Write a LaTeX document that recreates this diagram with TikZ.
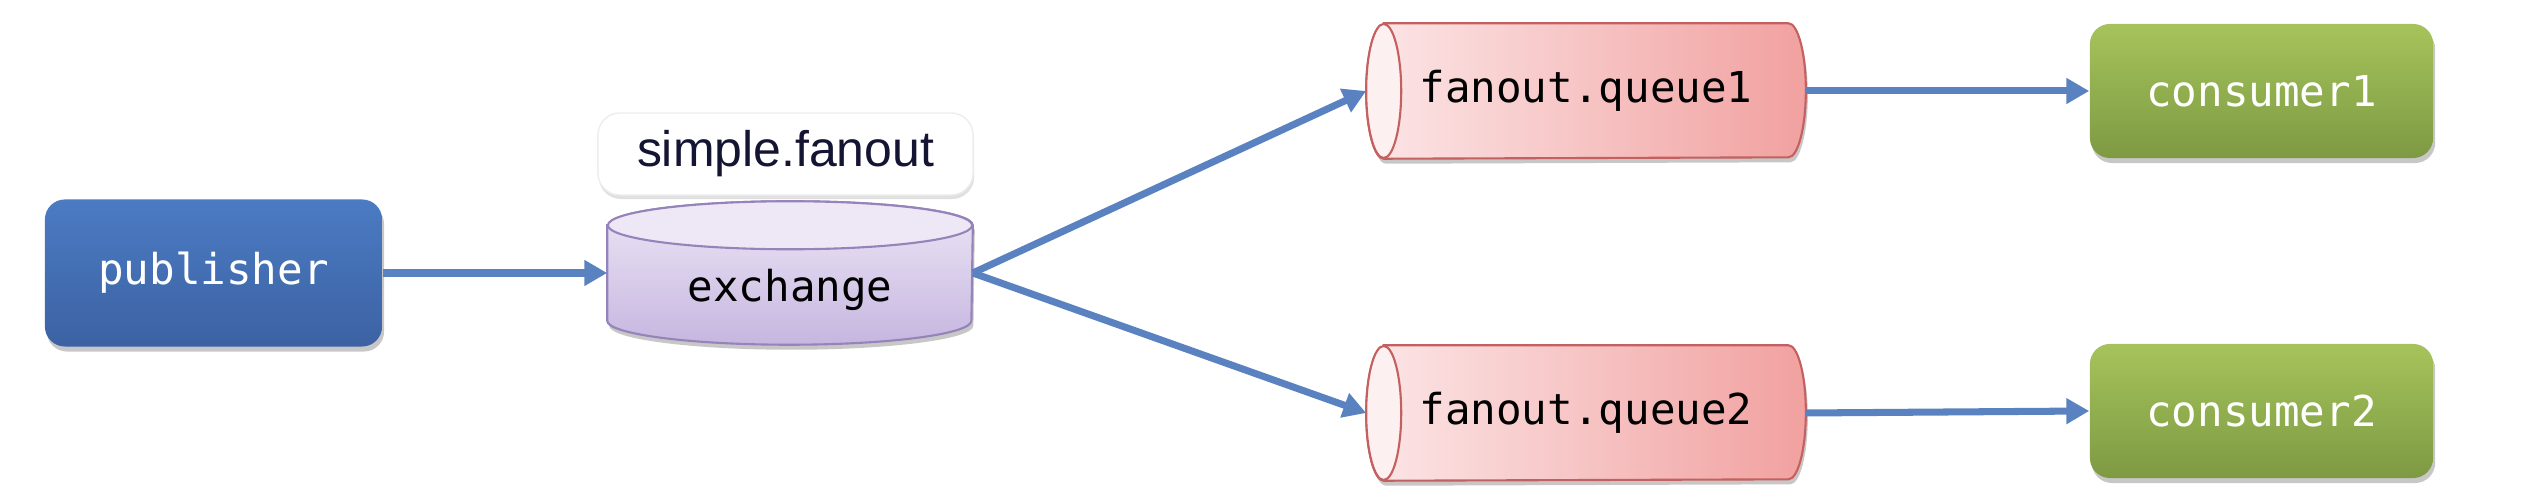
\documentclass[tikz,border=0pt]{standalone}
\usepackage{fontspec}
\setmonofont{DejaVu Sans Mono}
\setsansfont{Liberation Sans}
\usetikzlibrary{arrows.meta,shadows,backgrounds}
\definecolor{pubtop}{HTML}{4B7BC3}
\definecolor{pubbot}{HTML}{3C62A3}
\definecolor{contop}{HTML}{A6C35B}
\definecolor{conbot}{HTML}{7D9A43}
\definecolor{extop}{HTML}{EDE7F6}
\definecolor{exbot}{HTML}{C6B6E0}
\definecolor{exborder}{HTML}{9683B9}
\definecolor{qleft}{HTML}{FCE6E7}
\definecolor{qright}{HTML}{F1A1A0}
\definecolor{qborder}{HTML}{C4605F}
\definecolor{qface}{HTML}{FDF0F0}
\definecolor{arrowc}{HTML}{5A82C0}
\definecolor{lbltext}{HTML}{141433}
\begin{document}
\begin{tikzpicture}[x=0.01cm,y=0.01cm,
  monofont/.style={font=\ttfamily\fontsize{12.1}{14}\selectfont},
  softshadow/.style={drop shadow={shadow xshift=0.02cm,shadow yshift=-0.05cm,fill=black,opacity=0.22}},
  box/.style={monofont, rounded corners=0.2cm, text=white, inner sep=0pt, softshadow},
  pubbox/.style={box, top color=pubtop, bottom color=pubbot, minimum width=3.37cm, minimum height=1.47cm},
  conbox/.style={box, top color=contop, bottom color=conbot, minimum width=3.43cm, minimum height=1.34cm},
  qbox/.style={monofont, inner sep=0pt, text=black, minimum width=4.38cm, minimum height=1.34cm},
  exbox/.style={inner sep=0pt, minimum width=3.64cm, minimum height=1.42cm},
  qshape/.style={draw=qborder, line width=0.6pt, left color=qleft, right color=qright, softshadow},
  exshape/.style={draw=exborder, line width=0.6pt, top color=extop, bottom color=exbot, softshadow},
  lblbox/.style={font=\sffamily\fontsize{14.2}{16}\selectfont, text=lbltext, fill=white, draw=black!7,
    rounded corners=0.22cm, minimum width=3.75cm, minimum height=0.82cm, inner sep=0pt,
    drop shadow={shadow xshift=0.01cm,shadow yshift=-0.04cm,fill=black,opacity=0.12}},
  conn/.style={draw=arrowc, line width=2pt, -{Triangle[length=6.5pt,width=7pt]}}
]
\useasboundingbox (0,0) rectangle (2522,498);

\node[pubbox] (pub) at (213.5,225) {publisher};
\node[exbox] (exch) at (790,225) {};
\node[monofont, text=black, inner sep=0pt] (exchtext) at (790,208) {exchange};
\node[lblbox] (lbl) at (785.5,344) {simple.fanout};
\node[qbox] (q1) at (1586,407) {fanout.queue1};
\node[qbox] (q2) at (1586,85) {fanout.queue2};
\node[conbox] (c1) at (2261.5,407) {consumer1};
\node[conbox] (c2) at (2261.5,87) {consumer2};

\begin{pgfonlayer}{background}
  % exchange cylinder
  \path[exshape] ([yshift=-0.24cm]exch.north west) -- ([yshift=0.24cm]exch.south west)
    arc[start angle=180,end angle=360,x radius=1.82cm,y radius=0.24cm]
    -- ([yshift=-0.24cm]exch.north east)
    arc[start angle=0,end angle=180,x radius=1.82cm,y radius=0.24cm] -- cycle;
  \draw[draw=exborder, line width=0.6pt, fill=extop] ([yshift=-0.24cm]exch.north)
    ellipse[x radius=1.82cm,y radius=0.24cm];
  % queues
  \foreach \q in {q1,q2}{
    \path[qshape] ([xshift=0.175cm]\q.north west) -- ([xshift=-0.175cm]\q.north east)
      arc[start angle=90,end angle=-90,x radius=0.175cm,y radius=0.67cm]
      -- ([xshift=0.175cm]\q.south west)
      arc[start angle=270,end angle=90,x radius=0.175cm,y radius=0.67cm] -- cycle;
    \draw[draw=qborder, line width=0.6pt, fill=qface] ([xshift=0.175cm]\q.west)
      ellipse[x radius=0.175cm,y radius=0.67cm];
  }
\end{pgfonlayer}

\draw[conn] (pub.east) -- (exch.west);
\draw[conn] (exch.east) -- (q1.west);
\draw[conn] (exch.east) -- (q2.west);
\draw[conn] (q1.east) -- (c1.west);
\draw[conn] (q2.east) -- (c2.west);
\end{tikzpicture}
\end{document}
